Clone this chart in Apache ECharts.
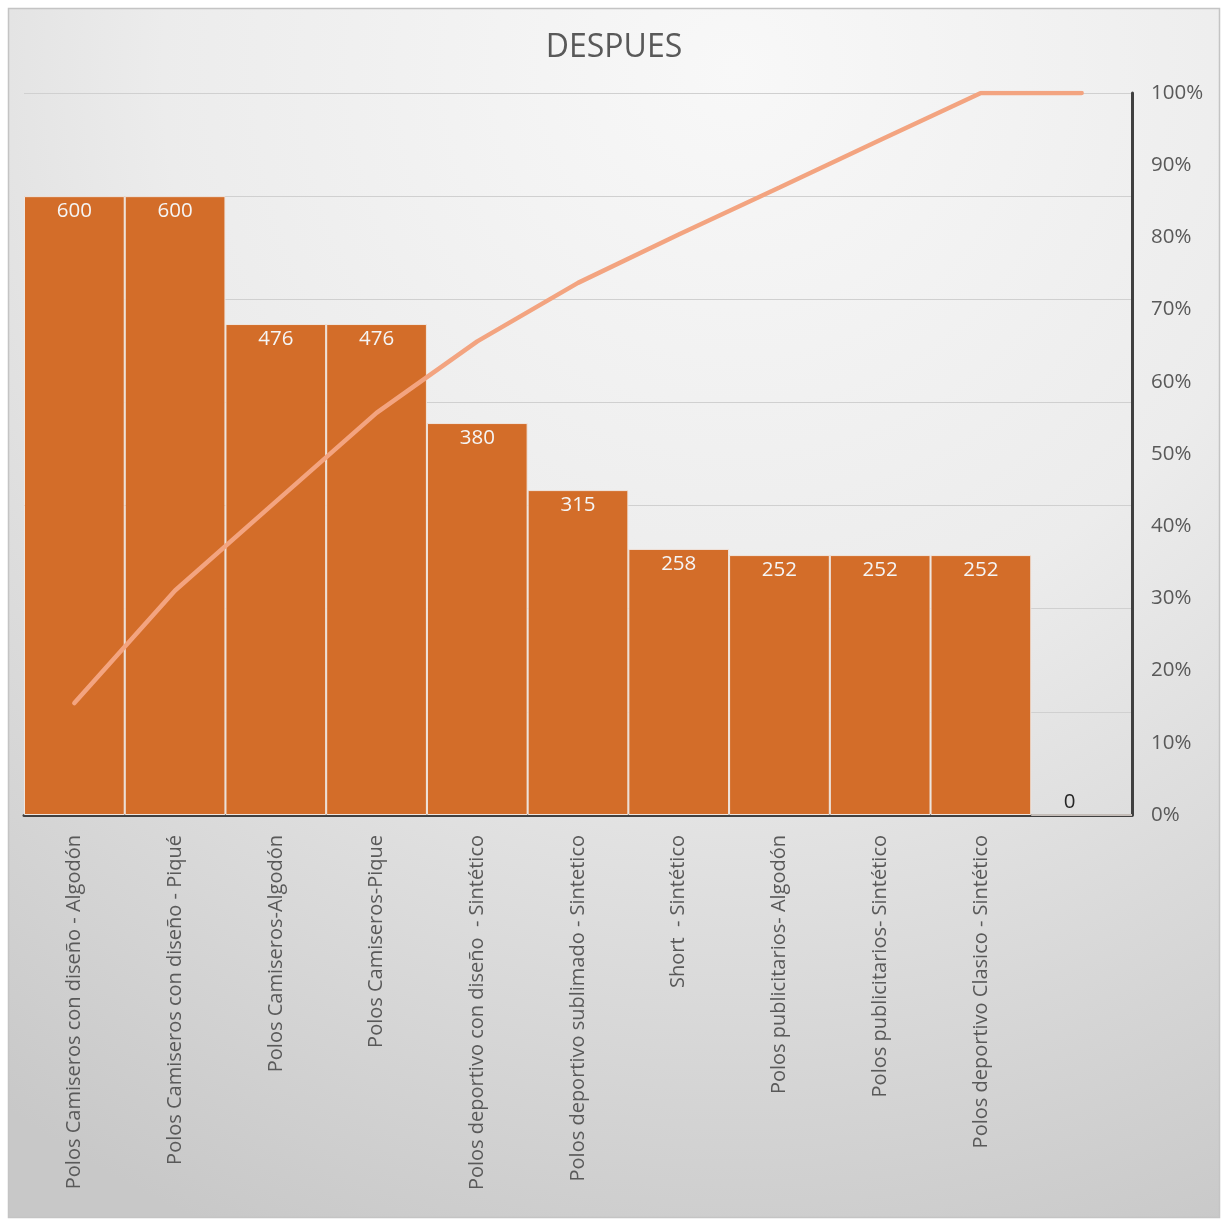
<!DOCTYPE html>
<html>
<head>
<meta charset="utf-8">
<script src="https://cdn.jsdelivr.net/npm/echarts@6/dist/echarts.min.js"></script>
<style>html,body{margin:0;padding:0;background:#fff}#c{width:1228px;height:1220px}</style>
</head>
<body>
<div id="c"></div>
<script>
const categories = [
  "Polos Camiseros con diseño - Algodón",
  "Polos Camiseros con diseño - Piqué",
  "Polos Camiseros-Algodón",
  "Polos Camiseros-Pique",
  "Polos deportivo con diseño  - Sintético",
  "Polos deportivo sublimado - Sintetico",
  "Short  - Sintético",
  "Polos publicitarios- Algodón",
  "Polos publicitarios- Sintético",
  "Polos deportivo Clasico - Sintético",
  ""
];
const quantities = [600, 600, 476, 476, 380, 315, 258, 252, 252, 252, 0];
const cumulativePct = [15.5, 31.1, 43.4, 55.7, 65.6, 73.7, 80.4, 86.9, 93.5, 100, 100];
const pctTicks = [0, 10, 20, 30, 40, 50, 60, 70, 80, 90, 100];

const FONT = '"Open Sans", "Noto Sans", sans-serif';
const chart = echarts.init(document.getElementById('c'), null, {renderer: 'canvas'});

const barData = quantities.map(v => v === 0
  ? {value: v, label: {position: 'top', color: '#262626', distance: 2, offset: [-12, 0]}}
  : v);

chart.setOption({
  animation: false,
  backgroundColor: '#ffffff',
  graphic: {
    elements: [{
      type: 'rect',
      z: -100,
      shape: {x: 8.5, y: 8.5, width: 1211, height: 1209},
      style: {
        fill: new echarts.graphic.RadialGradient(0.6, 0.05, 1.05, [
          {offset: 0, color: '#f8f8f8'},
          {offset: 0.45, color: '#ececec'},
          {offset: 1, color: '#c8c8c8'}
        ]),
        stroke: '#c4c4c4',
        lineWidth: 1.5
      }
    }]
  },
  title: {
    text: 'DESPUES',
    left: 'center',
    top: 27,
    textStyle: {fontFamily: FONT, fontSize: 32, fontWeight: 'normal', color: '#595959'}
  },
  grid: {left: 24, right: 96, top: 93, bottom: 405, containLabel: false},
  xAxis: {
    type: 'category',
    data: categories,
    axisLine: {show: true, lineStyle: {color: '#404040', width: 3}},
    axisTick: {show: false},
    axisLabel: {
      rotate: 90,
      interval: 0,
      margin: 20,
      fontFamily: FONT,
      fontSize: 20,
      color: '#595959'
    }
  },
  yAxis: [
    {
      type: 'value',
      min: 0, max: 700, interval: 100,
      axisLine: {show: false},
      axisTick: {show: false},
      axisLabel: {show: false},
      splitLine: {show: true, lineStyle: {color: '#d0d0d0', width: 1.2}}
    },
    {
      type: 'value',
      position: 'right',
      min: 0, max: 100, interval: 10,
      axisLine: {show: true, lineStyle: {color: '#404040', width: 3}},
      axisTick: {show: false},
      splitLine: {show: false},
      axisLabel: {
        margin: 19,
        fontFamily: FONT,
        fontSize: 20.5,
        color: '#595959',
        formatter: v => pctTicks.includes(v) ? v + '%' : ''
      }
    }
  ],
  series: [
    {
      type: 'bar',
      data: barData,
      yAxisIndex: 0,
      barWidth: '100%',
      barCategoryGap: 0,
      itemStyle: {color: '#d36d29', borderColor: '#f0e6df', borderWidth: 1},
      label: {
        show: true,
        position: 'insideTop',
        distance: 5,
        color: '#f5f5f5',
        fontFamily: FONT,
        fontSize: 20.5
      },
      z: 2
    },
    {
      type: 'line',
      data: cumulativePct,
      yAxisIndex: 1,
      showSymbol: false,
      symbol: 'none',
      lineStyle: {color: '#f3a480', width: 4.5, cap: 'round'},
      z: 5
    }
  ]
});
</script>
</body>
</html>
